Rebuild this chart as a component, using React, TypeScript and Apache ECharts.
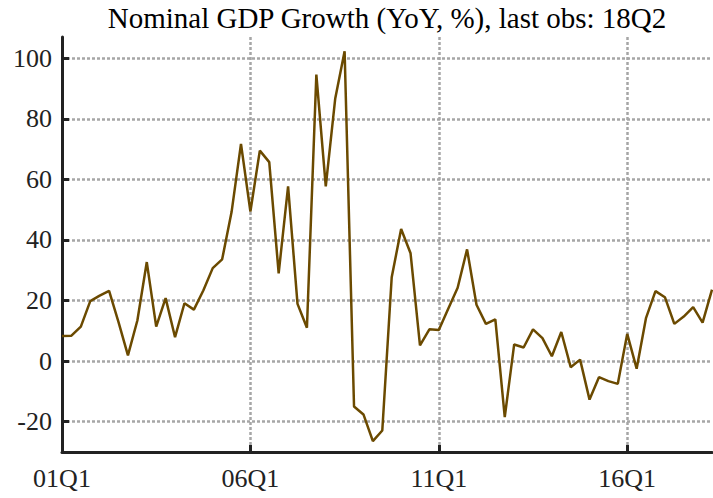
import React, { useEffect, useRef } from "react";
import * as echarts from "echarts";

const startYear = 2001;
const quarters: string[] = [];
for (let y = startYear; y <= 2018; y++) {
  for (let q = 1; q <= 4; q++) {
    if (y === 2018 && q > 2) break;
    quarters.push(String(y % 100).padStart(2, "0") + "Q" + q);
  }
}

const gdpGrowth = [
  8.3, 8.4, 11.4, 19.8, 21.6, 23.2, 12.9, 1.9, 13.4, 32.7,
  11.4, 20.8, 7.9, 19.1, 17.0, 23.3, 30.7, 33.6, 49.2, 71.7,
  49.4, 69.5, 65.7, 29.0, 57.7, 18.9, 11.0, 94.6, 57.7, 86.6,
  102.3, -15.0, -17.6, -26.4, -22.9, 27.7, 43.6, 35.6, 5.2, 10.5,
  10.3, 17.3, 24.2, 36.9, 18.6, 12.3, 13.8, -18.5, 5.5, 4.5,
  10.5, 7.6, 1.6, 9.6, -2.0, 0.5, -12.7, -5.3, -6.6, -7.5,
  9.0, -2.5, 14.3, 23.1, 21.1, 12.3, 14.7, 17.8, 12.7, 23.6,
];

const yTicks = [-20, 0, 20, 40, 60, 80, 100];
const titleText = "Nominal GDP Growth (YoY, %), last obs: 18Q2";

const FONT = "Liberation Serif";
const AXIS_COLOR = "#222222";
const GRID_COLOR = "#a6a6a6";

export default function App() {
  const ref = useRef<HTMLDivElement>(null);
  useEffect(() => {
    if (!ref.current) return;
    const chart = echarts.init(ref.current, null, { renderer: "svg" });
    chart.setOption({
      animation: false,
      backgroundColor: "#ffffff",
      graphic: [
        {
          type: "text",
          x: 387,
          y: 18,
          style: {
            text: titleText,
            align: "center",
            verticalAlign: "middle",
            fontFamily: FONT,
            fontSize: 29,
            fill: "#000000",
          },
        },
      ],
      grid: { left: 62, right: 1, top: 37, bottom: 46, containLabel: false },
      xAxis: {
        type: "category",
        data: quarters,
        boundaryGap: false,
        axisLine: { onZero: false, lineStyle: { color: AXIS_COLOR, width: 3 } },
        axisTick: {
          inside: true,
          length: 7,
          interval: 19,
          lineStyle: { color: AXIS_COLOR, width: 3 },
        },
        axisLabel: {
          interval: 19,
          margin: 13,
          fontFamily: FONT,
          fontSize: 26,
          color: "#222222",
        },
        splitLine: {
          show: true,
          interval: 19,
          lineStyle: { color: GRID_COLOR, width: 2.5, type: [3, 2] },
        },
      },
      yAxis: {
        type: "value",
        min: -30,
        max: 107,
        axisLine: { show: true, onZero: false, lineStyle: { color: AXIS_COLOR, width: 3 } },
        axisTick: {
          show: true,
          inside: true,
          length: 7,
          customValues: yTicks,
          lineStyle: { color: AXIS_COLOR, width: 3 },
        },
        axisLabel: {
          customValues: yTicks,
          margin: 10,
          fontFamily: FONT,
          fontSize: 26,
          color: "#222222",
        },
        splitLine: {
          show: true,
          lineStyle: { color: GRID_COLOR, width: 2.5, type: [3, 2] },
        },
      },
      series: [
        {
          type: "line",
          data: gdpGrowth,
          showSymbol: false,
          symbol: "none",
          lineStyle: { color: "#6b4a00", width: 2.5 },
        },
      ],
    });
    return () => chart.dispose();
  }, []);
  return (
    <div
      ref={ref}
      style={{ position: "fixed", left: 0, top: 0, width: 713, height: 498 }}
    />
  );
}
